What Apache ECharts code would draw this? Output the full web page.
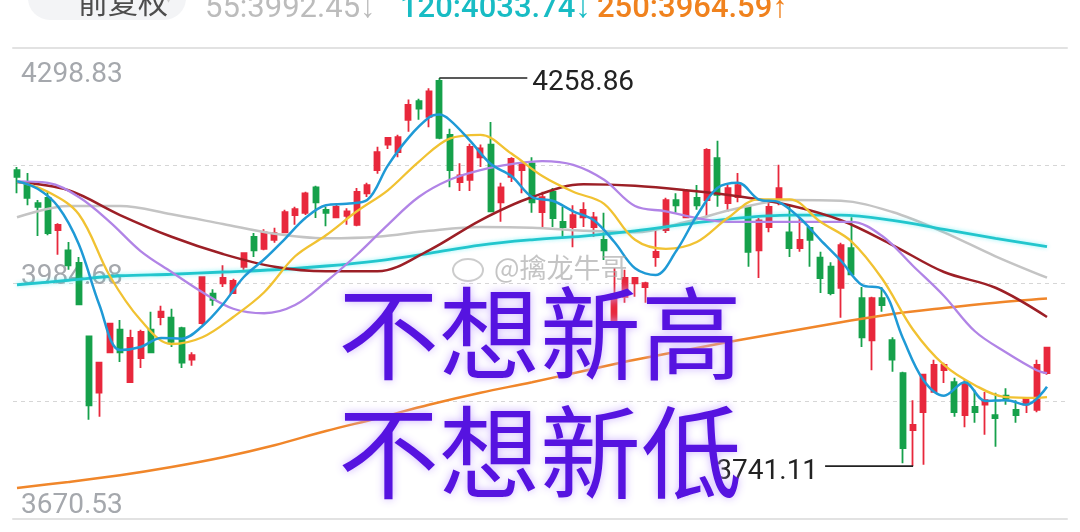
<!DOCTYPE html>
<html><head><meta charset="utf-8">
<script src="https://cdn.jsdelivr.net/npm/echarts@6/dist/echarts.min.js"></script>
<style>html,body{margin:0;padding:0;background:#fff;overflow:hidden}#c{width:1080px;height:532px}</style>
</head><body><div id="c"></div>
<script>
// ---- data ----
// candle: [open, close, low, high]
const kData = [
[4136,4127,4105,4140],[4120,4099,4089,4132],[4092,4087,4048,4096],[4099,4052,4049,4107],[4056,4063,4023,4065],
[4029,4009,4003,4040],[4012,3957,3956,4020],[3914,3822,3803,3915],[3839,3879,3807,3880],[3893,3931,3892,3932],
[3923,3893,3880,3936],[3853,3912,3852,3923],[3885,3920,3872,3923],[3923,3893,3892,3947],[3940,3947,3929,3955],
[3939,3907,3900,3951],[3925,3879,3872,3927],[3883,3889,3875,3893],[3932,3993,3929,3994],[3971,3963,3955,3977],
[3985,3992,3980,4009],[3972,3988,3971,3991],[4007,4025,4003,4026],[4047,4029,4020,4052],[4031,4053,4029,4057],
[4043,4052,4039,4059],[4053,4080,4052,4083],[4076,4084,4063,4087],[4079,4105,4076,4107],[4113,4093,4072,4115],
[4083,4079,4061,4087],[4073,4087,4072,4092],[4075,4081,4063,4085],[4063,4107,4061,4112],[4105,4116,4100,4119],
[4136,4160,4131,4167],[4170,4179,4164,4180],[4160,4180,4153,4183],[4203,4223,4187,4230],[4228,4218,4203,4231],
[4207,4241,4193,4245],[4255,4179,4177,4258.86],[4183,4136,4113,4191],[4120,4129,4108,4145],[4123,4167,4108,4171],
[4153,4165,4140,4170],[4170,4081,4080,4200],[4093,4113,4067,4119],[4127,4151,4120,4153],[4136,4145,4105,4147],
[4145,4093,4079,4153],[4080,4100,4060,4107],[4107,4072,4060,4112],[4067,4060,4047,4087],[4060,4076,4033,4089],
[4073,4083,4060,4093],[4060,4073,4047,4080],[4043,4029,4016,4079],[3934,3970,3927,4005],[3967,3992,3959,4003],
[3985,3992,3967,3993],[3980,3985,3959,3987],[4020,4027,4007,4059],[4056,4096,4052,4099],[4096,4089,4079,4105],
[4073,4107,4072,4109],[4099,4089,4083,4116],[4096,4163,4073,4165],[4152,4103,4087,4175],[4092,4112,4080,4116],
[4100,4116,4093,4132],[4087,4027,4007,4089],[4029,4069,3992,4072],[4060,4087,4053,4096],[4096,4112,4089,4143],
[4053,4032,4020,4089],[4032,4043,4027,4073],[4059,4043,4007,4060],[4019,3992,3972,4027],[4007,3972,3969,4013],
[3979,4036,3939,4039],[4032,3997,3996,4073],[3965,3913,3900,3980],[3909,3965,3869,3967],[3965,3956,3947,3980],
[3909,3883,3867,3913],[3865,3765,3745,3867],[3789,3796,3741.11,3829],[3813,3863,3743,3863],[3840,3876,3839,3883],
[3869,3876,3852,3879],[3853,3813,3807,3859],[3809,3852,3793,3856],[3820,3813,3799,3843],[3823,3829,3783,3840],
[3809,3805,3767,3839],[3835,3831,3823,3845],[3816,3809,3799,3829],[3823,3832,3812,3833],[3816,3876,3813,3883],
[3865,3899,3863,3900]
];

// moving-average lines, read at sampled candle indices [index, value]
const ma5 = [[0,4121],[2,4111],[4,4087],[6,4037],[8,3956],[10,3896],[12,3900],[14,3912],[16,3911],[18,3928],
[20,3957],[22,3993],[24,4017],[26,4044],[28,4072],[30,4089],[32,4091],[34,4096],[36,4142],[38,4179],[40,4206],
[41,4210],[42,4203],[44,4175],[46,4144],[48,4128],[50,4100],[52,4095],[54,4081],[56,4069],[58,4040],[60,4005],
[62,3996],[64,4028],[66,4075],[68,4112],[70,4119],[72,4097],[74,4093],[76,4072],[78,4043],[80,4015],[82,3983],
[84,3977],[86,3912],[88,3856],[90,3835],[92,3853],[94,3828],[96,3829],[98,3823],[100,3847]];
const ma10 = [[0,4121],[3,4107],[6,4077],[9,3995],[12,3936],[15,3904],[18,3913],[21,3940],[24,3973],[27,4021],
[30,4049],[33,4081],[36,4109],[39,4147],[42,4178],[45,4183],[48,4158],[51,4128],[54,4107],[57,4091],[60,4043],
[63,4031],[66,4040],[69,4072],[72,4097],[75,4097],[78,4067],[81,4041],[84,3991],[87,3923],[90,3876],[93,3849],
[96,3833],[99,3832],[100,3833]];
const ma20 = [[0,4121],[3,4119],[6,4100],[9,4067],[12,4028],[15,4000],[18,3973],[21,3951],[24,3945],[27,3956],
[30,3987],[33,4023],[36,4063],[39,4100],[42,4123],[45,4136],[48,4144],[51,4148],[54,4143],[57,4123],[60,4088],
[63,4081],[66,4072],[69,4067],[72,4067],[75,4067],[78,4067],[81,4067],[84,4048],[87,4008],[90,3968],[93,3921],
[96,3893],[99,3869],[100,3865]];
const longIdx = [0,5,10,15,20,25,30,35,40,45,50,55,60,65,70,75,80,85,90,95,100];
const ma60  = [4120,4109,4076,4047,4024,4007,4001,4001,4029,4069,4100,4117,4115,4109,4101,4089,4069,4036,4000,3979,3940];
const ma55  = [4073,4088,4088,4077,4064,4051,4045,4047,4055,4060,4059,4055,4053,4067,4085,4096,4095,4080,4053,4021,3992.45];
const ma120 = [3983,3989,3995,3997,4000,4003,4008,4015,4025,4036,4043,4048,4055,4064,4072,4076,4076,4069,4057,4045,4033.74];
const ma250 = [3712,3720,3729,3740,3753,3769,3788,3805,3823,3839,3853,3868,3883,3896,3909,3921,3933,3944,3952,3959,3964.59];

const yTickLabels = ['3670.53','3984.68','4298.83'];
const headerItems = [
  {text:'55:3992.45\u2193', color:'#bcbcbc'},
  {text:'120:4033.74\u2193', color:'#18bcc4'},
  {text:'250:3964.59\u2191', color:'#f0821e'}
];
const slogan = ['不想新高','不想新低'];
const watermark = '@擒龙牛哥';

// ---- chart ----
const yMin = +yTickLabels[0], yMax = +yTickLabels[2];
const days = kData.map((_, i) => String(i + 1));
const pairs = (idx, vals) => idx.map((x, k) => [x, vals[k]]);
const chart = echarts.init(document.getElementById('c'), null, {renderer:'canvas'});

const lineS = (name, data, color, width, extra) => Object.assign({
  type:'line', name, data, xAxisIndex:0, yAxisIndex:0, smooth:0.35, symbol:'none',
  lineStyle:{color, width}, z:4, silent:true
}, extra || {});

const labelFont = {fontFamily:'Roboto', fontSize:28, color:'#a5a8ad'};
const hiddenX = (pos) => ({type:'value', gridIndex:1, min:0, max:1, position:pos,
  axisLine:{show:true, onZero:false, lineStyle:{color:'#e2e2e2', width:2}}, axisTick:{show:false},
  axisLabel:{show:false}, splitLine:{show:false}});
const labelY = (interval, showMin, showMax, va, lh) => ({type:'value', gridIndex:1, min:yMin, max:yMax,
  position:'left', offset:0, interval, axisLine:{show:false}, axisTick:{show:false}, splitLine:{show:false},
  axisLabel:Object.assign({show:true, inside:true, margin:8, showMinLabel:showMin, showMaxLabel:showMax,
    verticalAlign:va, lineHeight:lh, align:'left', formatter:v => v.toFixed(2)}, labelFont)});

chart.setOption({
  animation:false,
  backgroundColor:'#ffffff',
  grid:[
    {left:11.85, width:1040.3, top:48, height:471, outerBoundsMode:'none', containLabel:false},
    {left:13, right:13, top:48, height:471, outerBoundsMode:'none', containLabel:false}
  ],
  xAxis:[
    {type:'category', gridIndex:0, data:days, boundaryGap:true, show:false},
    hiddenX('bottom'),
    hiddenX('top')
  ],
  yAxis:[
    {type:'value', gridIndex:0, min:yMin, max:yMax, show:false},
    {type:'value', gridIndex:1, min:yMin, max:yMax, interval:(yMax-yMin)/4, position:'left',
      axisLine:{show:false}, axisTick:{show:false}, axisLabel:{show:false},
      splitLine:{show:true, lineStyle:{color:'#d6d6d6', width:1, type:[4,4]}}},
    labelY(yMax-yMin, true, false, 'bottom', 27),
    labelY((yMax-yMin)/2, false, false, 'bottom', 14),
    labelY(yMax-yMin, false, true, 'top', 54)
  ],
  series:[
    {type:'candlestick', xAxisIndex:0, yAxisIndex:0, data:kData, barWidth:5.5, z:2, silent:true,
     itemStyle:{color:'#e8283c', color0:'#16a14b', borderColor:'#e8283c', borderColor0:'#16a14b', borderWidth:1.8}},
    lineS('MA250', pairs(longIdx, ma250), '#f0862a', 2.5),
    lineS('MA55', pairs(longIdx, ma55), '#c4c4c4', 2.5),
    lineS('MA120', pairs(longIdx, ma120), '#22c6cd', 2.8, {lineStyle:{color:'#22c6cd', width:2.8, shadowBlur:4, shadowColor:'rgba(0,230,240,0.45)'}}),
    lineS('MA60', pairs(longIdx, ma60), '#9c1f26', 2.5),
    lineS('MA20', ma20, '#b184e6', 2.3),
    lineS('MA10', ma10, '#f1c232', 2.3),
    lineS('MA5', ma5, '#1f9ad6', 2.5)
  ]
});

// annotations for highest high / lowest low
let hi = 0, lo = 0;
kData.forEach((d, i) => { if (d[3] > kData[hi][3]) hi = i; if (d[2] < kData[lo][2]) lo = i; });
const pH = chart.convertToPixel({xAxisIndex:0, yAxisIndex:0}, [hi, kData[hi][3]]);
const pL = chart.convertToPixel({xAxisIndex:0, yAxisIndex:0}, [lo, kData[lo][2]]);
const annFont = 'normal 28px Roboto';

const graphics = [
  {type:'rect', shape:{x:28, y:-24, width:158, height:44, r:22}, style:{fill:'#f3f4f6'}, z:10},
  {type:'text', x:78, y:2, style:{text:'前复权', font:'normal 30px "Noto Sans CJK SC"', fill:'#4d4d4d', verticalAlign:'middle'}, z:11},
  {type:'text', x:164, y:-2, style:{text:'\u25BE', font:'normal 18px "DejaVu Sans"', fill:'#cfcfcf', verticalAlign:'middle'}, z:11},
  {type:'line', shape:{x1:pH[0], y1:pH[1], x2:pH[0]+88, y2:pH[1]}, style:{stroke:'#222', lineWidth:1.6}, z:20},
  {type:'text', x:pH[0]+93, y:pH[1]+5, style:{text:kData[hi][3].toFixed(2), font:annFont, fill:'#222', verticalAlign:'middle'}, z:20},
  {type:'line', shape:{x1:pL[0], y1:pL[1], x2:pL[0]-88, y2:pL[1]}, style:{stroke:'#222', lineWidth:1.6}, z:20},
  {type:'text', x:pL[0]-95, y:pL[1]+6, style:{text:kData[lo][2].toFixed(2), font:annFont, fill:'#222', align:'right', verticalAlign:'middle'}, z:20},
  {type:'ellipse', shape:{cx:468, cy:270, rx:15, ry:11}, style:{fill:'none', stroke:'rgba(170,170,170,0.6)', lineWidth:2}, z:15},
  {type:'text', x:494, y:268, style:{text:watermark, font:'normal 27px "Noto Sans CJK SC"', fill:'rgba(165,165,165,0.65)', verticalAlign:'middle'}, z:15}
];
const headerX = [205, 400, 597];
headerItems.forEach((h, k) => {
  graphics.push({type:'text', x:headerX[k], y:9, style:{text:h.text, font:(k===0?'normal':'500')+' 31px Roboto', fill:h.color, verticalAlign:'middle'}, z:11});
});
slogan.forEach((s, k) => {
  graphics.push({type:'text', x:338, y:[334, 453][k], style:{text:s, font:'normal 101px "Noto Sans CJK SC"', fill:'#5613e0',
    verticalAlign:'middle', textShadowColor:'rgba(200,170,255,0.9)', textShadowBlur:8}, z:30});
});
chart.setOption({graphic:graphics});
</script></body></html>
